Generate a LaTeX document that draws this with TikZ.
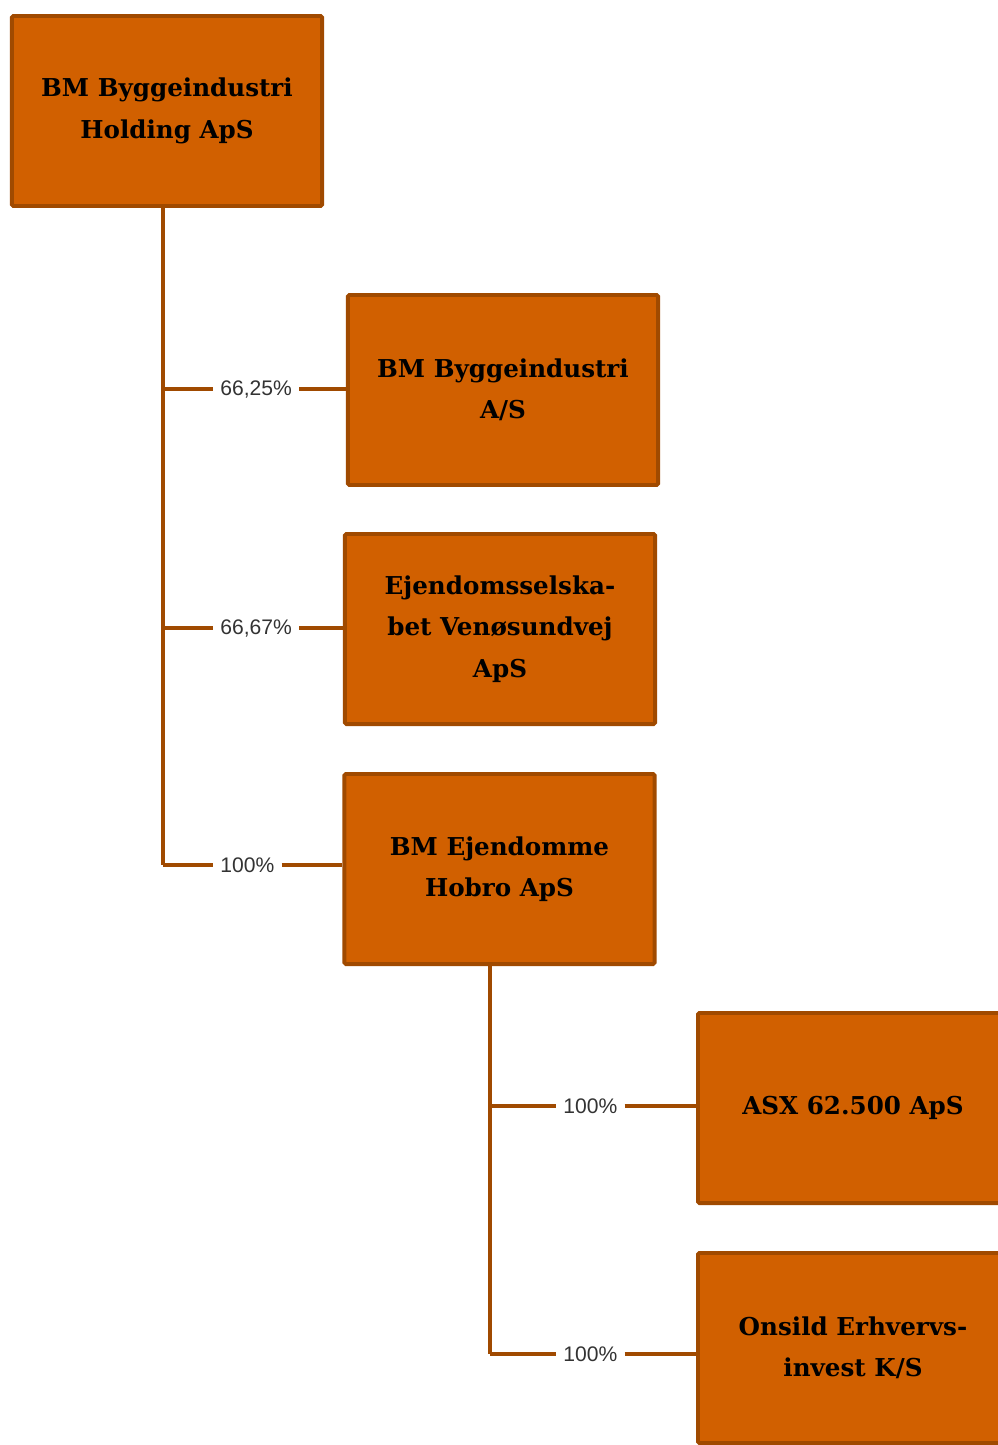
\documentclass[tikz,border=0pt]{standalone}
\usepackage{fontspec}
\setmainfont{DejaVu Serif}
\setsansfont{Liberation Sans}
\definecolor{boxfill}{RGB}{209,96,0}
\definecolor{boxline}{RGB}{160,74,0}
\definecolor{pcttext}{RGB}{51,51,51}
\tikzset{
  company/.style={draw=boxline, fill=boxfill, line width=2.8pt, rounded corners=1pt,
    minimum width=7.75cm, minimum height=4.75cm, align=center, text=black,
    font=\bfseries\fontsize{17.5}{29.5}\selectfont},
  share/.style={font=\sffamily\fontsize{15}{18}\selectfont, text=pcttext,
    inner xsep=5pt, anchor=west},
  owner/.style={draw=boxline, line width=2.4pt}
}
\begin{document}
\begin{tikzpicture}[x=0.025cm,y=-0.025cm]
  \clip (0,0) rectangle (998,1445);
  % companies
  \node[company] (holding) at (167,111) {BM Byggeindustri\\Holding ApS};
  \node[company] (bygge) at (503,390) {BM Byggeindustri\\A/S};
  \node[company] (venoe) at (500,629) {Ejendomsselska-\\bet Venøsundvej\\ApS};
  \node[company] (hobro) at (499.5,869) {BM Ejendomme\\Hobro ApS};
  \node[company] (asx) at (853,1108) {ASX 62.500 ApS};
  \node[company] (onsild) at (853,1348) {Onsild Erhvervs-\\invest K/S};
  % junctions
  \coordinate (j1) at (163,389);
  \coordinate (j2) at (163,628);
  \coordinate (j3) at (163,865);
  \coordinate (j4) at (490,1106);
  \coordinate (j5) at (490,1354);
  % shares
  \node[share] (p1) at (j1) [xshift=1.25cm] {66,25\%};
  \node[share] (p2) at (j2) [xshift=1.25cm] {66,67\%};
  \node[share] (p3) at (j3) [xshift=1.25cm] {100\%};
  \node[share] (p4) at (j4) [xshift=1.65cm] {100\%};
  \node[share] (p5) at (j5) [xshift=1.65cm] {100\%};
  \begin{scope}[owner]
    \draw (holding.south -| j3) -- (j3);
    \draw (j1) -- (p1.west);
    \draw (p1.east) -- (p1.east -| bygge.west);
    \draw (j2) -- (p2.west);
    \draw (p2.east) -- (p2.east -| venoe.west);
    \draw (j3) -- (p3.west);
    \draw (p3.east) -- (p3.east -| hobro.west);
    \draw (hobro.south -| j5) -- (j5);
    \draw (j4) -- (p4.west);
    \draw (p4.east) -- (p4.east -| asx.west);
    \draw (j5) -- (p5.west);
    \draw (p5.east) -- (p5.east -| onsild.west);
  \end{scope}
\end{tikzpicture}
\end{document}
